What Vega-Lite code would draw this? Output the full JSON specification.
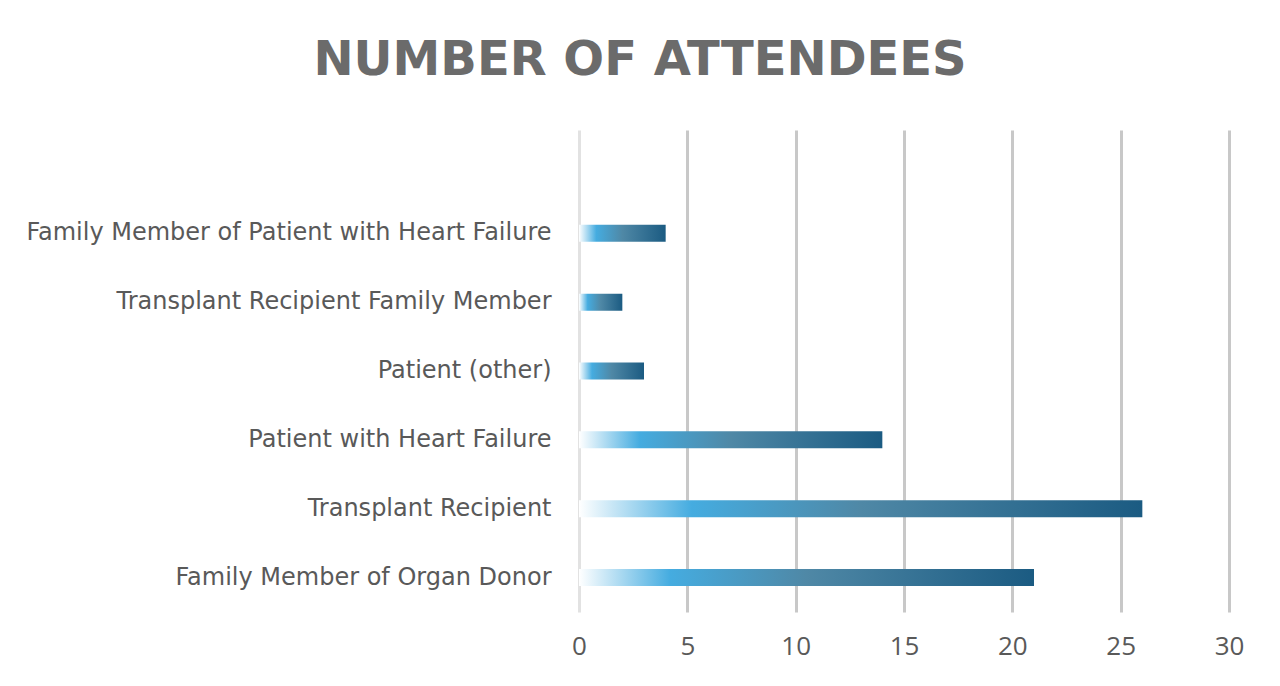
{
  "$schema": "https://vega.github.io/schema/vega-lite/v6.json",
  "autosize": {"type": "none"},
  "width": 650,
  "height": 482,
  "padding": {"left": 579, "top": 130, "right": 51, "bottom": 74},
  "background": "white",
  "title": {
    "text": "NUMBER OF ATTENDEES",
    "font": "DejaVu Sans",
    "fontSize": 48,
    "fontWeight": "bold",
    "color": "#6b6b6b",
    "anchor": "middle",
    "dx": -264,
    "offset": 45
  },
  "data": {
    "values": [
      {"group": "Family Member of Patient with Heart Failure", "count": 4},
      {"group": "Transplant Recipient Family Member", "count": 2},
      {"group": "Patient (other)", "count": 3},
      {"group": "Patient with Heart Failure", "count": 14},
      {"group": "Transplant Recipient", "count": 26},
      {"group": "Family Member of Organ Donor", "count": 21}
    ]
  },
  "mark": {
    "type": "bar",
    "size": 17,
    "color": {
      "gradient": "linear",
      "x1": 0, "x2": 1, "y1": 0, "y2": 0,
      "stops": [
        {"offset": 0, "color": "#ffffff"},
        {"offset": 0.2, "color": "#45ace0"},
        {"offset": 0.5, "color": "#4f88a6"},
        {"offset": 1, "color": "#1b5b82"}
      ]
    }
  },
  "encoding": {
    "y": {
      "field": "group",
      "type": "nominal",
      "sort": null,
      "scale": {
        "domain": [" ", "Family Member of Patient with Heart Failure", "Transplant Recipient Family Member", "Patient (other)", "Patient with Heart Failure", "Transplant Recipient", "Family Member of Organ Donor"],
        "paddingInner": 0,
        "paddingOuter": 0
      },
      "axis": {
        "title": null,
        "domain": false,
        "ticks": false,
        "labelPadding": 28,
        "labelFont": "DejaVu Sans",
        "labelFontSize": 24,
        "labelColor": "#595959",
        "labelLimit": 700
      }
    },
    "x": {
      "field": "count",
      "type": "quantitative",
      "scale": {"domain": [0, 30], "nice": false},
      "axis": {
        "title": null,
        "values": [0, 5, 10, 15, 20, 25, 30],
        "domain": false,
        "ticks": false,
        "grid": true,
        "gridWidth": 3,
        "gridColor": {"condition": {"test": "datum.value === 0", "value": "#e2e2e2"}, "value": "#c8c8c8"},
        "labelFlush": false,
        "labelPadding": 21,
        "labelFont": "Open Sans",
        "labelFontSize": 26,
        "labelColor": "#595959"
      }
    }
  },
  "config": {"view": {"stroke": null}}
}
